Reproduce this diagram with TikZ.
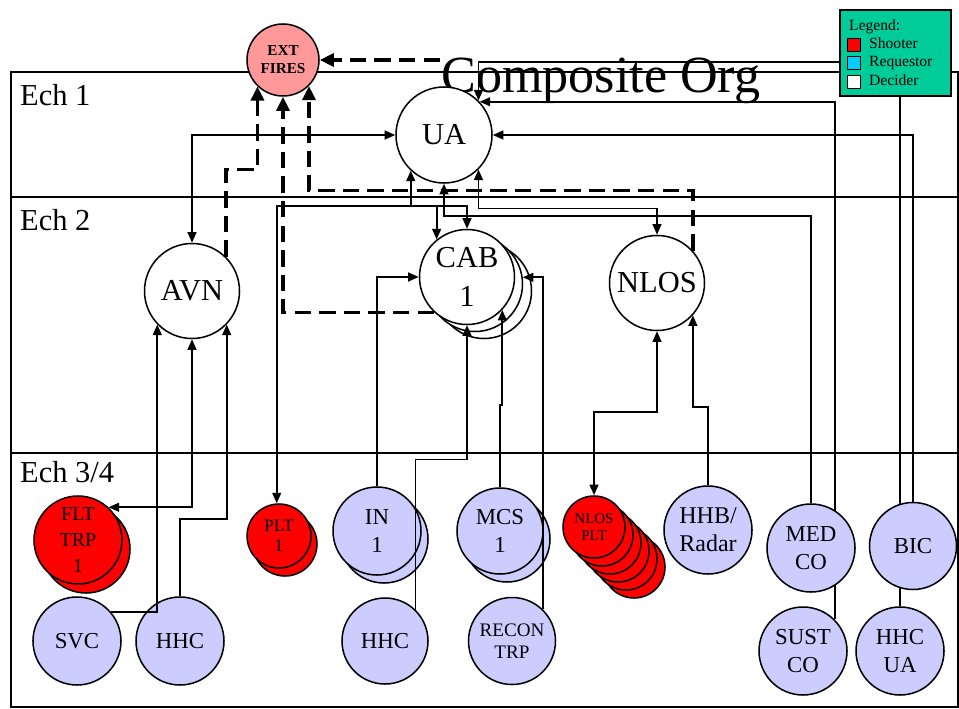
\documentclass[tikz,border=0pt]{standalone}
\usepackage{fontspec}
\setmainfont{Liberation Serif}
\usetikzlibrary{arrows.meta}
\pgfdeclarelayer{bg}
\pgfsetlayers{bg,main}
\definecolor{lav}{HTML}{CCCCFF}
\definecolor{pinkf}{HTML}{FF9999}
\definecolor{legg}{HTML}{00CC99}
\definecolor{cyanf}{HTML}{00CCFF}
\newcommand\myBig{\fontsize{26pt}{33pt}\selectfont}
\newcommand\myMed{\fontsize{19.5pt}{24pt}\selectfont}
\newcommand\myHhb{\fontsize{20.5pt}{24pt}\selectfont}
\newcommand\myFlt{\fontsize{17pt}{22pt}\selectfont}
\newcommand\myRecon{\fontsize{16.3pt}{19pt}\selectfont}
\newcommand\myPlt{\fontsize{15pt}{17pt}\selectfont}
\newcommand\myNp{\fontsize{12.8pt}{15pt}\selectfont}
\newcommand\myExt{\fontsize{13pt}{15.5pt}\selectfont\bfseries}
\newcommand\myEch{\fontsize{26pt}{30pt}\selectfont}
\newcommand\myTitle{\fontsize{44.5pt}{50pt}\selectfont}
\newcommand\myLeg{\fontsize{13.3pt}{16pt}\selectfont}
\begin{document}
\begin{tikzpicture}[x=0.03cm,y=-0.03cm,
  circ/.style={circle, draw=black, line width=1.3pt, inner sep=0pt, align=center, text=black},
  lavc/.style={circ, fill=lav, font=\myMed},
  redc/.style={circ, fill=red},
  whtc/.style={circ, fill=white, font=\myBig},
  conn/.style={line width=1.5pt, -{Triangle[length=9pt,width=7.5pt]}},
  bconn/.style={line width=1.5pt, {Triangle[length=9pt,width=7.5pt]}-{Triangle[length=9pt,width=7.5pt]}},
  dconn/.style={line width=3pt, dash pattern=on 14pt off 7pt, -{Triangle[length=12pt,width=11pt]}},
  framel/.style={line width=1.8pt},
  lbl/.style={inner sep=0pt, anchor=base west},
  leglbl/.style={lbl, font=\myLeg},
  legsq/.style={draw=black, line width=1pt, minimum size=0.39cm, inner sep=0pt}
]
\useasboundingbox (0,0) rectangle (959,709);

% ---------- frame ----------
\begin{pgfonlayer}{bg}
\draw[framel] (11,72) rectangle (958,707);
\draw[framel] (11,197) -- (958,197);
\draw[framel] (11,453) -- (958,453);
\end{pgfonlayer}

\node[lbl, font=\myEch] (ech1) at (20,106) {Ech 1};
\node[lbl, font=\myEch] (ech2) at (20,230) {Ech 2};
\node[lbl, font=\myEch] (ech3) at (20,482) {Ech 3/4};
\node[lbl, font=\myTitle] (title) at (441,93) {Composite Org};

% ---------- upper nodes ----------
\node[circ, fill=pinkf, minimum size=2.16cm, font=\myExt] (EXT) at (283,60) {EXT\\FIRES};
\node[whtc, minimum size=2.88cm] (UA) at (444,135) {UA};
\node[whtc, minimum size=2.85cm] (AVN) at (192,291) {AVN};
\node[whtc, minimum size=2.85cm] (cab3) at (484,291) {};
\node[whtc, minimum size=2.85cm] (cab2) at (475,284) {};
\node[whtc, minimum size=2.85cm] (CAB) at (467,277) {CAB\\1};
\node[whtc, minimum size=2.85cm] (NLOS) at (657,283) {NLOS};

% ---------- lower nodes ----------
\node[redc, minimum size=2.64cm] (flt2) at (86,549) {};
\node[redc, minimum size=2.64cm, font=\myFlt] (FLT) at (78,540) {FLT\\TRP\\1};
\node[redc, minimum size=1.92cm] (plt2) at (285,544) {};
\node[redc, minimum size=1.92cm, font=\myPlt] (PLT) at (279,536) {PLT\\1};
\node[lavc, minimum size=2.64cm] (SVC) at (77,641) {SVC};
\node[lavc, minimum size=2.64cm] (HHCa) at (180,641) {HHC};
\node[lavc, minimum size=2.64cm] (in2) at (384,539) {};
\node[lavc, minimum size=2.64cm] (IN) at (377,531) {IN\\1};
\node[lavc, minimum size=2.58cm] (HHCb) at (385,641) {HHC};
\node[lavc, minimum size=2.58cm] (mcs2) at (507,539) {};
\node[lavc, minimum size=2.58cm] (MCS) at (500,531) {MCS\\1};
\node[lavc, minimum size=2.61cm, font=\myRecon] (RECON) at (512,641) {RECON\\TRP};
\node[redc, minimum size=1.86cm] (np5) at (634,567) {};
\node[redc, minimum size=1.86cm] (np4) at (626,559) {};
\node[redc, minimum size=1.86cm] (np3) at (618,551) {};
\node[redc, minimum size=1.86cm] (np2) at (610,543) {};
\node[redc, minimum size=1.86cm] (np1) at (602,535) {};
\node[redc, minimum size=1.86cm, font=\myNp] (NP) at (594,527) {NLOS\\PLT};
\node[lavc, minimum size=2.64cm, font=\myHhb] (HHB) at (708,530) {HHB/\\Radar};
\node[lavc, minimum size=2.64cm] (MED) at (811,548) {MED\\CO};
\node[lavc, minimum size=2.61cm] (BIC) at (913,546) {BIC};
\node[lavc, minimum size=2.64cm] (SUST) at (803,651) {SUST\\CO};
\node[lavc, minimum size=2.64cm] (HHCUA) at (900,651) {HHC\\UA};

\coordinate (dsrc) at (440,60);

% ---------- hidden connectors ----------
\begin{pgfonlayer}{bg}
\draw[conn] (SUST.45) |- (UA.43);
\draw[conn] (HHCUA.north) -- ++(0,-544) -| (UA.45);
\end{pgfonlayer}

% ---------- connectors ----------
\draw[bconn] (UA.west) -| (AVN.north);
\draw[bconn] (AVN.south) |- (FLT.47);
\draw[conn] (SVC.41) -| (AVN.-136);
\draw[conn] (HHCa.north) -- ++(0,-77) -| (AVN.-44);

\draw[bconn] (UA.-133) -- ++(0,35) coordinate (ja) -| (PLT.94);
\draw[conn] (ja) -| (CAB.north);
\draw[conn] (CAB.129 |- ja) -- (CAB.129);
\draw[conn] (MED.north) -- ++(0,-287) -| (UA.south);
\draw[bconn] (UA.-45) -- ++(0,39) -| (NLOS.north);
\draw[conn] (BIC.north) |- (UA.east);

\draw[conn] (IN.north) |- (CAB.west);
\draw[conn] (RECON.46) |- (cab2.8);
\draw[conn] (HHCb.46) -- ++(0,-150) -| (CAB.south);
\draw[conn] (MCS.north) -- ++(0,-82.5) -| (CAB.-43);
\draw[bconn] (NP.north) -- ++(0,-83) -| (NLOS.south);
\draw[conn] (HHB.north) -- ++(0,-78) -| (NLOS.-42);

% dashed
\draw[dconn] (AVN.45) -- ++(0,-87.4) -| (EXT.-134);
\draw[dconn] (CAB.-133) -| (EXT.south);
\draw[dconn] (NLOS.42) -- ++(0,-60) -| (EXT.-45);
\draw[dconn] (dsrc) -- (EXT.east);

% ---------- legend ----------
\node[draw=black, line width=1.5pt, fill=legg, minimum width=3.33cm, minimum height=2.58cm, anchor=north west, inner sep=0pt] (legend) at (839,9) {};
\node[leglbl] (lg) at (849,31) {Legend:};
\node[legsq, fill=red] (sq1) at (854,45) {};
\node[legsq, fill=cyanf] (sq2) at (854,63) {};
\node[legsq, fill=white] (sq3) at (854,82) {};
\node[leglbl] (lg1) at (869,49) {Shooter};
\node[leglbl] (lg2) at (869,67) {Requestor};
\node[leglbl] (lg3) at (869,86) {Decider};
\end{tikzpicture}
\end{document}
